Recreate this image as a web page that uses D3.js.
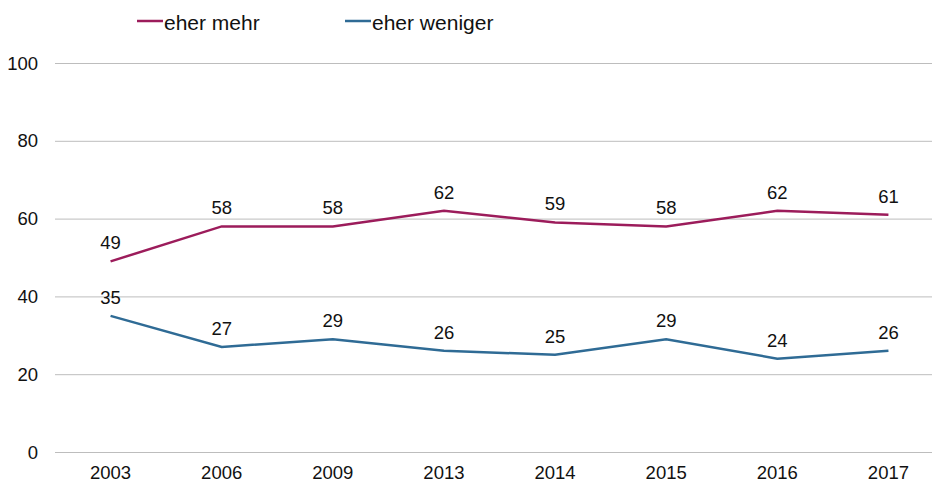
<!DOCTYPE html>
<html lang="de">
<head>
<meta charset="UTF-8">
<script src="https://cdnjs.cloudflare.com/ajax/libs/d3/7.8.5/d3.min.js"></script>
<style>
  body { margin: 0; background: #fff; font-family: "Liberation Sans", Arial, sans-serif; }
  svg text { fill: #111; }
</style>
</head>
<body>
<div id="chart"></div>
<script>
const years = ["2003", "2006", "2009", "2013", "2014", "2015", "2016", "2017"];
const eherMehr = [49, 58, 58, 62, 59, 58, 62, 61];
const eherWeniger = [35, 27, 29, 26, 25, 29, 24, 26];
const yTicks = [0, 20, 40, 60, 80, 100];

const series = [
  { name: "eher mehr", values: eherMehr, color: "#9c1c5b", lx: 137 },
  { name: "eher weniger", values: eherWeniger, color: "#2f6b95", lx: 345 }
];

const width = 932, height = 484;
const svg = d3.select("#chart").append("svg")
  .attr("width", width).attr("height", height);

const x = d3.scalePoint().domain(years).range([55, 944]).padding(0.5);
const y = d3.scaleLinear().domain([0, 100]).range([452, 63]);

// gridlines
svg.append("g").selectAll("line")
  .data(yTicks).join("line")
  .attr("x1", 55).attr("x2", width)
  .attr("y1", d => y(d) + 0.5).attr("y2", d => y(d) + 0.5)
  .attr("stroke", "#bdbdbd").attr("stroke-width", 1);

// y labels
svg.append("g").selectAll("text")
  .data(yTicks).join("text")
  .attr("x", 38).attr("y", d => y(d) + 6.5)
  .attr("text-anchor", "end")
  .attr("font-size", 18.5)
  .text(d => d);

// x labels
svg.append("g").selectAll("text")
  .data(years).join("text")
  .attr("x", d => x(d)).attr("y", 479)
  .attr("text-anchor", "middle")
  .attr("font-size", 18.5)
  .text(d => d);

const line = d3.line()
  .x((d, i) => x(years[i]))
  .y(d => y(d));

series.forEach(s => {
  svg.append("path")
    .datum(s.values)
    .attr("d", line)
    .attr("fill", "none")
    .attr("stroke", s.color)
    .attr("stroke-width", 2.5);

  svg.append("g").selectAll("text")
    .data(s.values).join("text")
    .attr("x", (d, i) => x(years[i]))
    .attr("y", d => y(d) - 12)
    .attr("text-anchor", "middle")
    .attr("font-size", 18.5)
    .text(d => d);

  // legend
  svg.append("line")
    .attr("x1", s.lx).attr("x2", s.lx + 26)
    .attr("y1", 21).attr("y2", 21)
    .attr("stroke", s.color).attr("stroke-width", 2.5);
  svg.append("text")
    .attr("x", s.lx + 27).attr("y", 30)
    .attr("font-size", 21)
    .text(s.name);
});
</script>
</body>
</html>
